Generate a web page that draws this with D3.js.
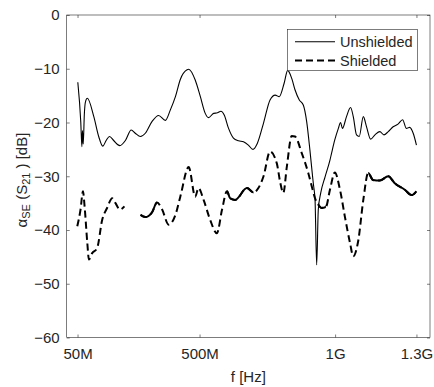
<!DOCTYPE html>
<html><head><meta charset="utf-8">
<script src="https://cdn.jsdelivr.net/npm/d3@7"></script>
<style>
body{margin:0;background:#fff}
text{font-family:"Liberation Sans",Arial,Helvetica,sans-serif;fill:#262626}
</style>
</head><body><svg id="c" width="434" height="387"></svg>
<script>
// ---- data ----
const xTickValues = [50, 500, 1000, 1300];           // MHz
const xTickLabels = ["50M", "500M", "1G", "1.3G"];
const yTickValues = [0, -10, -20, -30, -40, -50, -60];
const seriesNames = ["Unshielded", "Shielded"];

const unshieldedFreq = [51,62,66,68,71,75,79,86,110,128,143,156,168,184,206,227,248,263,282,300,325,349,374,392,411,429,454,460,484,503,521,533,552,566,579,591,607,625,644,662,680,697,713,736,760,779,794,812,825,840,852,868,883,895,907,917,920,926,932,938,947,963,981,987,999,1012,1020,1027,1042,1057,1067,1079,1089,1104,1116,1131,1147,1165,1180,1196,1214,1232,1249,1263,1275,1288,1300];
const unshieldedDb = [-12.5,-20,-24.5,-21.5,-24,-18.5,-16.2,-15.5,-18.9,-22.6,-24.4,-23.3,-22.6,-23.4,-24.3,-23.3,-21.4,-22.0,-22.6,-22.0,-19.8,-18.7,-19.6,-17.7,-15.2,-12,-10.2,-10.1,-12.1,-15.2,-18.3,-19.1,-18.3,-18.2,-17.9,-18.6,-21.1,-22.9,-23.4,-23.6,-24.2,-25.0,-23.9,-20.1,-15.8,-14.9,-15.2,-12.7,-10.3,-11.8,-13.9,-15.8,-16.8,-19.8,-25.1,-30.1,-31.5,-34.4,-46.5,-36.2,-33.1,-30.1,-27.0,-25.7,-23.2,-21.1,-20.0,-21.1,-18.9,-17.2,-18.9,-22.3,-22.6,-18.9,-20.8,-23.1,-22.3,-21.7,-22.3,-21.7,-20.8,-20.3,-19.5,-21.1,-20.9,-22.0,-24.2];

const shieldedFreq = [49,61,70,76,86,92,104,122,141,159,178,190,206,223,250,282,300,325,343,362,386,411,429,460,484,496,515,539,564,583,601,613,631,675,699,717,736,760,785,797,809,822,840,852,877,901,914,926,938,950,966,981,999,1018,1036,1055,1067,1085,1104,1122,1140,1165,1196,1220,1257,1282,1300];
const shieldedDb = [-39.3,-36.2,-32.8,-35.6,-42.4,-45.5,-44.3,-43.4,-38.1,-35.9,-34.1,-35.0,-36.2,-35.6,null,-37.2,-37.6,-36.7,-34.9,-36.2,-39.0,-37.2,-33.8,-28.3,-33.8,-32.2,-34.4,-38.1,-40.6,-36.2,-32.8,-34.1,-34.4,-32.2,-33.0,-32.2,-30.0,-25.4,-27.6,-31.0,-33.1,-28.2,-22.5,-22.6,-25.7,-29.4,-31.9,-34.1,-35.3,-35.9,-35.7,-32.5,-29.3,-32.5,-37.5,-42.4,-44.9,-42.1,-34.4,-29.4,-30.7,-30.8,-30.0,-31.3,-32.5,-33.5,-32.8];
// frequency spans (MHz) where the dashed trace renders as continuous
const shieldedSolidFrom = [282, 601, 938, 1122];
const shieldedSolidTo   = [343, 699, 966, 1300];

// ---- chart ----
const svg = d3.select("#c");
const L = 66.7, R = 430, T = 15, B = 337.5;
const x = d3.scaleLinear().domain([10, 1350]).range([L, R]);
const y = d3.scaleLinear().domain([-60, 0]).range([B, T]);
const axisColor = "#262626";

svg.append("rect").attr("width", 434).attr("height", 387).attr("fill", "#fff");

const defs = svg.append("defs");
defs.append("clipPath").attr("id", "plotclip").append("rect")
  .attr("x", L).attr("y", T).attr("width", R - L).attr("height", B - T);

function styleAxis(g) {
  g.select(".domain").remove();
  g.selectAll(".tick line").attr("stroke", axisColor).attr("stroke-width", 0.6);
  g.selectAll(".tick text").attr("font-size", 15).attr("fill", axisColor)
    .style("font-family", '"Liberation Sans",Arial,sans-serif');
}

svg.append("g").attr("transform", `translate(0,${B})`)
  .call(d3.axisBottom(x).tickValues(xTickValues).tickSize(-3).tickPadding(11)
    .tickFormat((d, i) => xTickLabels[i]))
  .call(styleAxis);
svg.append("g").attr("transform", `translate(0,${T})`)
  .call(d3.axisTop(x).tickValues(xTickValues).tickSize(-3).tickFormat(""))
  .call(styleAxis);
svg.append("g").attr("transform", `translate(${L},0)`)
  .call(d3.axisLeft(y).tickValues(yTickValues).tickSize(-3).tickPadding(7)
    .tickFormat(d3.format("d")))
  .call(styleAxis);
svg.append("g").attr("transform", `translate(${R},0)`)
  .call(d3.axisRight(y).tickValues(yTickValues).tickSize(-3).tickFormat(""))
  .call(styleAxis);

svg.append("rect").attr("x", L).attr("y", T).attr("width", R - L).attr("height", B - T)
  .attr("fill", "none").attr("stroke", axisColor).attr("stroke-width", 0.6);

// data lines
const uns = unshieldedFreq.map((f, i) => ({ f, v: unshieldedDb[i] }));
const shd = shieldedFreq.map((f, i) => ({ f, v: shieldedDb[i] }));
const line = d3.line().defined(d => d.v != null)
  .x(d => x(d.f)).y(d => y(d.v)).curve(d3.curveMonotoneX);

const plot = svg.append("g").attr("clip-path", "url(#plotclip)");
plot.append("path").datum(uns).attr("d", line)
  .attr("fill", "none").attr("stroke", "#000").attr("stroke-width", 1.1);
plot.append("path").datum(shd).attr("d", line)
  .attr("fill", "none").attr("stroke", "#000").attr("stroke-width", 2)
  .attr("stroke-dasharray", "7,4");

shieldedSolidFrom.forEach((a, i) => {
  const id = "solid" + i;
  defs.append("clipPath").attr("id", id).append("rect")
    .attr("x", x(a)).attr("y", T).attr("width", x(shieldedSolidTo[i]) - x(a)).attr("height", B - T);
  plot.append("g").attr("clip-path", `url(#${id})`).append("path").datum(shd).attr("d", line)
    .attr("fill", "none").attr("stroke", "#000").attr("stroke-width", 2);
});

// axis labels
svg.append("text").attr("x", (L + R) / 2).attr("y", 382).attr("text-anchor", "middle")
  .attr("font-size", 15).text("f [Hz]");

const yl = svg.append("text").attr("transform", "translate(27,180) rotate(-90)")
  .attr("text-anchor", "middle").attr("font-size", 15);
yl.append("tspan").text("α");
yl.append("tspan").attr("font-size", 11).attr("dy", 3).text("SE");
yl.append("tspan").attr("dy", -3).text(" (S");
yl.append("tspan").attr("font-size", 11).attr("dy", 3).text("21");
yl.append("tspan").attr("dy", -3).text(" ) [dB]");

// legend
const lg = svg.append("g");
lg.append("rect").attr("x", 287.3).attr("y", 29.3).attr("width", 130).attr("height", 41.4)
  .attr("fill", "#fff").attr("stroke", axisColor).attr("stroke-width", 0.6);
const legY = [41.7, 60.5];
seriesNames.forEach((name, i) => {
  lg.append("line").attr("x1", 295).attr("x2", 335).attr("y1", legY[i]).attr("y2", legY[i])
    .attr("stroke", "#000").attr("stroke-width", i === 0 ? 1.1 : 2)
    .attr("stroke-dasharray", i === 0 ? null : "7,4");
  lg.append("text").attr("x", 340).attr("y", legY[i] + 5).attr("font-size", 14.5).text(name);
});
</script>
</body></html>
